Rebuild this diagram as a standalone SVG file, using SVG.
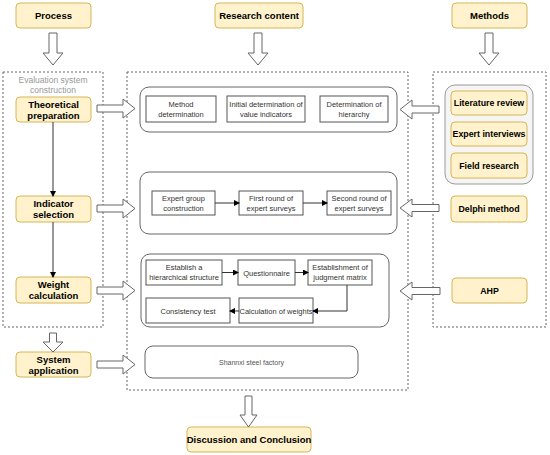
<svg xmlns="http://www.w3.org/2000/svg" width="550" height="455" viewBox="0 0 550 455">
<style>
.y{fill:#fff2cc;stroke:#d6b656;stroke-width:1}
.yt{font-family:"Liberation Sans",Arial,sans-serif;font-size:9.5px;font-weight:bold;fill:#000;text-anchor:middle}
.ym{font-family:"Liberation Sans",Arial,sans-serif;font-size:8.8px;font-weight:bold;fill:#000;text-anchor:middle}
.dot{fill:none;stroke:#666;stroke-width:1;stroke-dasharray:2 2}
.grp{fill:#fff;stroke:#666;stroke-width:1}
.box{fill:#fff;stroke:#555;stroke-width:1}
.bt{font-family:"Liberation Sans",Arial,sans-serif;font-size:7.5px;fill:#333;text-anchor:middle}
.blk{fill:#fff;stroke:#666;stroke-width:1}
.ln{fill:none;stroke:#333;stroke-width:1}
</style>
<defs>
<marker id="ah" markerWidth="6" markerHeight="6" refX="5" refY="3" orient="auto" markerUnits="userSpaceOnUse">
<path d="M0,0 L6,3 L0,6 Z" fill="#000"/>
</marker>
</defs>

<rect class="dot" x="3" y="72" width="100" height="255"/>
<rect class="dot" x="127" y="72" width="281" height="318"/>
<rect class="dot" x="433" y="72" width="113" height="255"/>

<g id="process"><rect class="y" x="16" y="3" width="75" height="25" rx="4"/><text class="yt" x="53.5" y="19">Process</text></g>
<g id="research"><rect class="y" x="215" y="3" width="88" height="25" rx="4"/><text class="yt" x="259" y="19">Research content</text></g>
<g id="methods"><rect class="y" x="452" y="3" width="75" height="25" rx="4"/><text class="yt" x="489.5" y="19">Methods</text></g>

<text x="53" y="83" font-family="Liberation Sans,Arial,sans-serif" font-size="8.5" fill="#999" text-anchor="middle">Evaluation system</text>
<text x="53" y="93" font-family="Liberation Sans,Arial,sans-serif" font-size="8.5" fill="#999" text-anchor="middle">construction</text>

<g id="theoretical"><rect class="y" x="16" y="97" width="75" height="25" rx="4"/><text class="yt" x="53.5" y="107.5">Theoretical</text><text class="yt" x="53.5" y="118.5">preparation</text></g>
<g id="indicator"><rect class="y" x="16" y="196" width="75" height="26" rx="4"/><text class="yt" x="53.5" y="207">Indicator</text><text class="yt" x="53.5" y="218">selection</text></g>
<g id="weight"><rect class="y" x="16" y="277" width="75" height="26" rx="4"/><text class="yt" x="53.5" y="288">Weight</text><text class="yt" x="53.5" y="299">calculation</text></g>
<g id="system"><rect class="y" x="16" y="352" width="75" height="25" rx="4"/><text class="yt" x="53.5" y="362.5">System</text><text class="yt" x="53.5" y="373.5">application</text></g>
<g id="discussion"><rect class="y" x="187" y="427" width="124" height="25" rx="4"/><text class="yt" x="249" y="443">Discussion and Conclusion</text></g>

<g id="methods-group"><rect x="445" y="85" width="88" height="99" rx="10" fill="#f5f5f5" stroke="#999"/></g>
<g id="literature"><rect class="y" x="451" y="91" width="76" height="24" rx="4"/><text class="ym" x="489" y="106">Literature review</text></g>
<g id="interviews"><rect class="y" x="451" y="122" width="76" height="24" rx="4"/><text class="ym" x="489" y="137">Expert interviews</text></g>
<g id="field"><rect class="y" x="451" y="153" width="76" height="25" rx="4"/><text class="ym" x="489" y="168.5">Field research</text></g>
<g id="delphi"><rect class="y" x="451" y="196" width="76" height="26" rx="4"/><text class="ym" x="489" y="212">Delphi method</text></g>
<g id="ahp"><rect class="y" x="452" y="278" width="75" height="25" rx="4"/><text class="ym" x="489.5" y="294">AHP</text></g>

<g id="group1"><rect class="grp" x="140" y="87" width="257" height="45" rx="9"/></g>
<g id="method-det"><rect class="box" x="146" y="96" width="70" height="26"/><text class="bt" x="181" y="106.5">Method</text><text class="bt" x="181" y="116.5">determination</text></g>
<g id="initial-det"><rect class="box" x="227" y="96" width="78" height="26"/><text class="bt" x="266" y="106.5">Initial determination of</text><text class="bt" x="266" y="116.5">value indicators</text></g>
<g id="hierarchy-det"><rect class="box" x="320" y="96" width="68" height="26"/><text class="bt" x="354" y="106.5">Determination of</text><text class="bt" x="354" y="116.5">hierarchy</text></g>

<g id="group2"><rect class="grp" x="140" y="172" width="257" height="62" rx="9"/></g>
<g id="expert-group"><rect class="box" x="152" y="191" width="63" height="24"/><text class="bt" x="183.5" y="201">Expert group</text><text class="bt" x="183.5" y="211">construction</text></g>
<g id="first-round"><rect class="box" x="239" y="191" width="64" height="24"/><text class="bt" x="271" y="201">First round of</text><text class="bt" x="271" y="211">expert surveys</text></g>
<g id="second-round"><rect class="box" x="327" y="191" width="64" height="24"/><text class="bt" x="359" y="201">Second round of</text><text class="bt" x="359" y="211">expert surveys</text></g>

<g id="group3"><rect class="grp" x="141" y="254" width="248" height="73" rx="9"/></g>
<g id="establish"><rect class="box" x="146" y="260" width="76" height="25"/><text class="bt" x="184" y="270">Establish a</text><text class="bt" x="184" y="280">hierarchical structure</text></g>
<g id="questionnaire"><rect class="box" x="238" y="260" width="57" height="25"/><text class="bt" x="266.5" y="275.5">Questionnaire</text></g>
<g id="judgment"><rect class="box" x="308" y="260" width="64" height="25"/><text class="bt" x="340" y="270">Establishment of</text><text class="bt" x="340" y="280">judgment matrix</text></g>
<g id="calc"><rect class="box" x="239" y="298" width="74" height="25"/><text class="bt" x="276" y="313.5">Calculation of weights</text></g>
<g id="consistency"><rect class="box" x="146" y="298" width="84" height="25"/><text class="bt" x="188" y="313.5">Consistency test</text></g>

<g id="shannxi"><rect class="grp" x="145" y="346" width="213" height="32" rx="8"/><text x="251.5" y="365" font-family="Liberation Sans,Arial,sans-serif" font-size="7" fill="#555" text-anchor="middle">Shannxi steel factory</text></g>

<g id="connectors">
<path class="blk" d="M49,33 V53 H43 L53,65 L63,53 H57 V33 Z"/>
<path class="blk" d="M254,33 V53 H248 L258,65 L268,53 H262 V33 Z"/>
<path class="blk" d="M485,33 V53 H479 L489,65 L499,53 H493 V33 Z"/>
<path class="blk" d="M49.5,333 V342 H43 L53,352 L63,342 H56.5 V333 Z"/>
<path class="blk" d="M245,396 V415 H240 L248.5,427 L257,415 H252 V396 Z"/>

<path class="blk" d="M97,105 H123 V99 L135,108.5 L123,118 V112 H97 Z"/>
<path class="blk" d="M97,205 H123 V199 L135,208.5 L123,218 V212 H97 Z"/>
<path class="blk" d="M97,287 H123 V281 L135,290.5 L123,300 V294 H97 Z"/>
<path class="blk" d="M97,361 H123 V355 L135,364.5 L123,374 V368 H97 Z"/>

<path class="blk" d="M439,106 H412 V100 L400,109.5 L412,119 V113 H439 Z"/>
<path class="blk" d="M439,204.5 H412 V199 L400,208 L412,217 V211.5 H439 Z"/>
<path class="blk" d="M440,287.5 H412 V282 L400,291 L412,300 V294.5 H440 Z"/>

<path class="ln" d="M53,122 V196" marker-end="url(#ah)"/>
<path class="ln" d="M53,222 V277" marker-end="url(#ah)"/>

<path class="ln" d="M215,203 H239" marker-end="url(#ah)"/>
<path class="ln" d="M303,203 H327" marker-end="url(#ah)"/>

<path class="ln" d="M222,272.5 H238" marker-end="url(#ah)"/>
<path class="ln" d="M295,272.5 H308" marker-end="url(#ah)"/>
<path class="ln" d="M347,285 V311 H313" marker-end="url(#ah)"/>
<path class="ln" d="M239,311 H230" marker-end="url(#ah)"/>
</g>
</svg>
